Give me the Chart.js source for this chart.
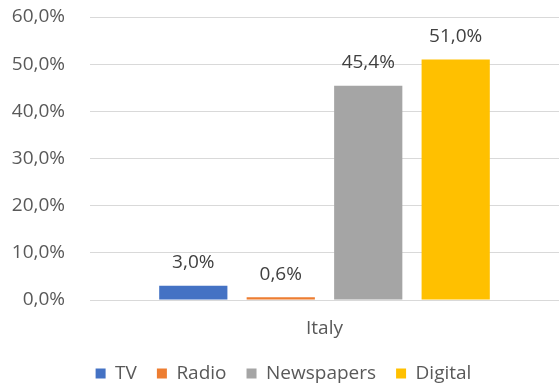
<!DOCTYPE html>
<html>
<head>
<meta charset="utf-8">
<script src="https://cdn.jsdelivr.net/npm/chart.js@4"></script>
<style>
  html, body { margin: 0; padding: 0; background: #fff; }
  #wrap { width: 559px; height: 386px; }
</style>
</head>
<body>
<div id="wrap"><canvas id="c" width="559" height="386"></canvas></div>
<script>
const categories = ['Italy'];
const seriesNames = ['TV', 'Radio', 'Newspapers', 'Digital'];
const seriesValues = [[3.0], [0.6], [45.4], [51.0]];
const seriesColors = ['#4472C4', '#ED7D31', '#A5A5A5', '#FFC000'];
const yTicks = [0, 10, 20, 30, 40, 50, 60];

const fmt = v => v.toFixed(1).replace('.', ',') + '%';
const FONT = 'Open Sans';

// value labels above each bar
const barLabels = {
  id: 'barLabels',
  afterDatasetsDraw(chart) {
    const ctx = chart.ctx;
    ctx.save();
    ctx.font = '19px "' + FONT + '"';
    ctx.fillStyle = '#404040';
    ctx.textAlign = 'center';
    ctx.textBaseline = 'middle';
    chart.data.datasets.forEach((ds, i) => {
      chart.getDatasetMeta(i).data.forEach((bar, j) => {
        ctx.fillText(fmt(ds.data[j]), bar.x, bar.y - 23);
      });
    });
    ctx.restore();
  }
};

new Chart(document.getElementById('c'), {
  type: 'bar',
  data: {
    labels: categories,
    datasets: seriesNames.map((name, i) => ({
      label: name,
      data: seriesValues[i],
      backgroundColor: seriesColors[i],
      borderWidth: 0,
      barPercentage: 0.78,
      categoryPercentage: 0.746
    }))
  },
  options: {
    responsive: false,
    animation: false,
    layout: { padding: { left: 8, right: 0, top: 17, bottom: -7 } },
    plugins: {
      legend: {
        position: 'bottom',
        labels: {
          color: '#595959',
          font: { size: 19, family: FONT },
          boxWidth: 10,
          boxHeight: 10,
          padding: 20
        }
      },
      tooltip: { enabled: false }
    },
    scales: {
      x: {
        grid: { display: false },
        border: { display: false },
        afterFit: axis => { axis.height = 44; },
        ticks: { color: '#595959', font: { size: 19, family: FONT }, padding: 9 }
      },
      y: {
        min: 0,
        max: 60,
        afterBuildTicks: axis => { axis.ticks = yTicks.map(v => ({ value: v })); },
        afterFit: axis => {
          axis.width = 82;
          axis.paddingTop = 0;
          axis.paddingBottom = 0;
        },
        grid: { color: '#D9D9D9', drawTicks: false },
        border: { display: false },
        ticks: {
          color: '#595959',
          font: { size: 19, family: FONT },
          padding: 25,
          callback: v => fmt(v)
        }
      }
    }
  },
  plugins: [barLabels]
});
</script>
</body>
</html>
